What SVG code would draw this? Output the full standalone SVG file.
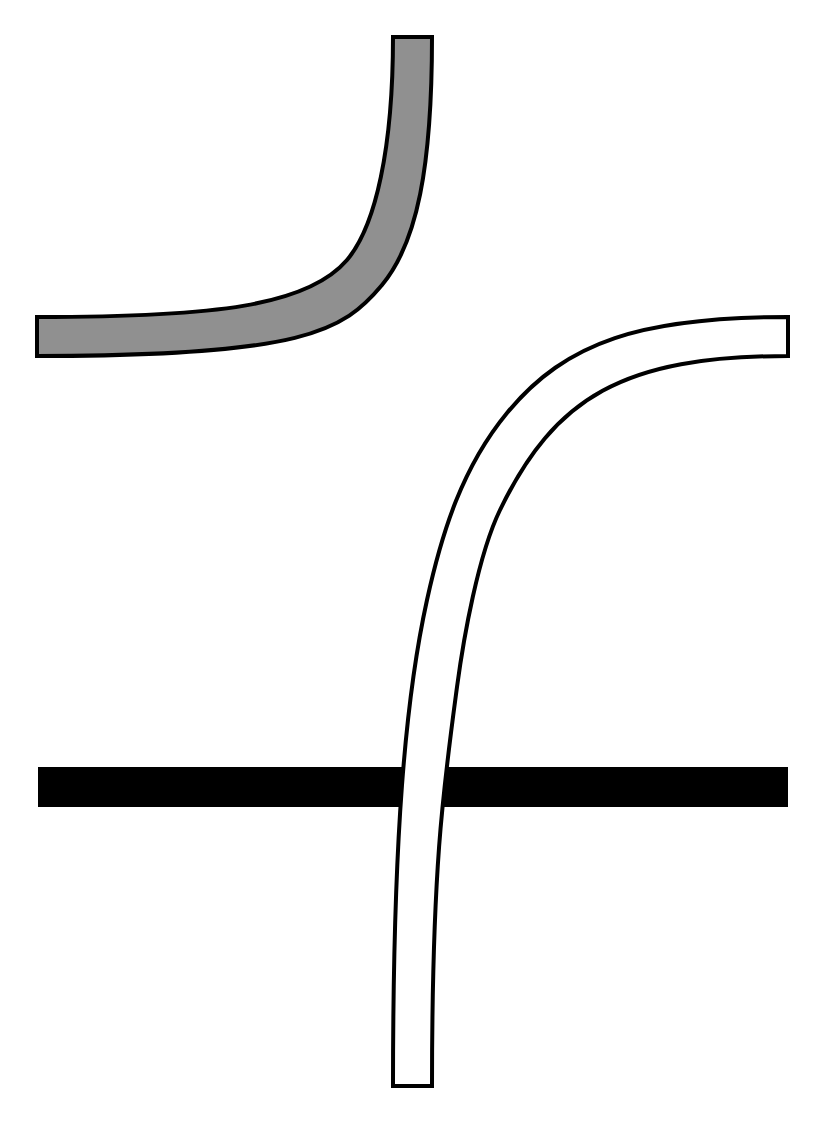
<svg xmlns="http://www.w3.org/2000/svg" width="825" height="1125" viewBox="0 0 825 1125">
<style>
.band{stroke:#000;stroke-width:4;stroke-linejoin:miter}
.gray{fill:#909090}
.white{fill:#fff}
</style>
<rect x="0" y="0" width="825" height="1125" fill="#fff"/>
<g id="gray-band">
<path class="band gray" d="M393,37 C393,147 376,225.8 347,260 C308,305.6 216,317 37,317 L37,356 C303,356 343.6,331.2 382,285 C417.2,242.7 432,167 432,37 Z"/>
</g>
<g id="black-bar">
<rect x="38" y="767" width="750" height="40" fill="#000"/>
</g>
<g id="white-band">
<path class="band white" d="M788,317 C642,317 566,341.3 507,413 C462.5,467 442,531.6 427,600 C405.5,697.7 393,836 393,1086 L432,1086 C432,866 443.7,786 457,687 C463.65,637.45 478.2,555 500,510 C554.5,397.5 623,356 788,356 Z"/>
</g>
</svg>
